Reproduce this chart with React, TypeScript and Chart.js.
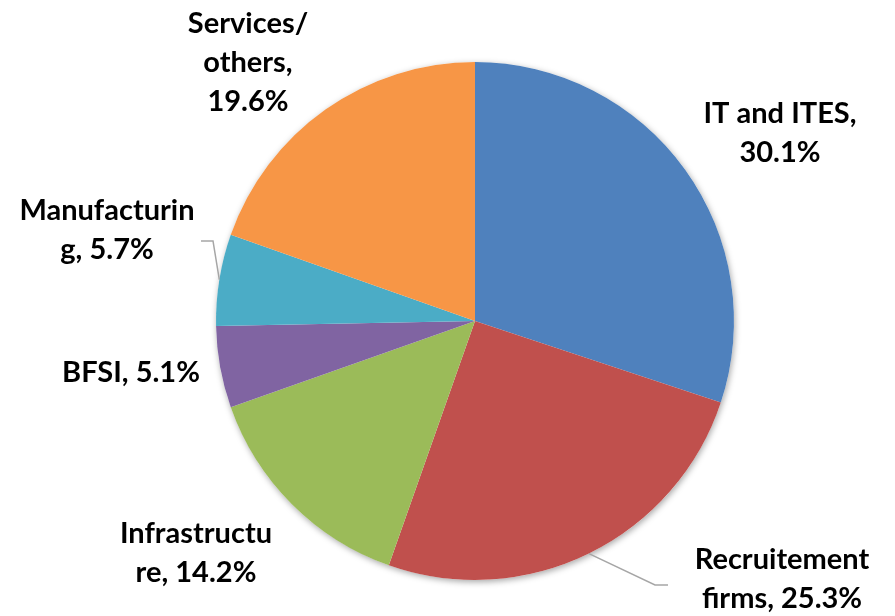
import React, { useEffect, useRef } from "react";
import { Chart, registerables } from "chart.js";

Chart.register(...registerables);

const categories = ["IT and ITES", "Recruitement firms", "Infrastructure", "BFSI", "Manufacturing", "Services/ others"];
const shares = [30.1, 25.3, 14.2, 5.1, 5.7, 19.6];
const labelLines = [
  ["IT and ITES,", "30.1%"],
  ["Recruitement", "firms, 25.3%"],
  ["Infrastructu", "re, 14.2%"],
  ["BFSI, 5.1%"],
  ["Manufacturin", "g, 5.7%"],
  ["Services/", "others,", "19.6%"],
];
const colors = ["#4F81BD", "#C0504D", "#9BBB59", "#8064A2", "#4BACC6", "#F79646"];

// label layout (style): center x and first baseline y, in canvas pixels
const labelLayout = [
  { x: 780, y: 123 },
  { x: 782, y: 569 },
  { x: 196, y: 543 },
  { x: 131, y: 382 },
  { x: 107, y: 220 },
  { x: 248, y: 33 },
];
// leader lines: elbow and end points (style)
const leaders: Record<number, { elbow: [number, number]; end: [number, number] }> = {
  1: { elbow: [655, 585], end: [668, 585] },
  4: { elbow: [213, 241], end: [201, 241] },
};

const FONT = "bold 29px Lato, 'Open Sans', sans-serif";
const LINE_H = 39;

const labelPlugin = {
  id: "pieLabels",
  beforeDatasetsDraw(chart: any) {
    const meta = chart.getDatasetMeta(0);
    const a = meta.data[0];
    if (!a) return;
    const ctx = chart.ctx;
    ctx.save();
    ctx.shadowColor = "rgba(0,0,0,0.35)";
    ctx.shadowBlur = 6;
    ctx.shadowOffsetX = 1;
    ctx.shadowOffsetY = 2;
    ctx.fillStyle = "#ffffff";
    ctx.beginPath();
    ctx.arc(a.x, a.y, a.outerRadius, 0, Math.PI * 2);
    ctx.fill();
    ctx.restore();
  },
  afterDatasetsDraw(chart: any) {
    const ctx = chart.ctx;
    const meta = chart.getDatasetMeta(0);
    ctx.save();
    ctx.strokeStyle = "#A6A6A6";
    ctx.lineWidth = 1.5;
    Object.keys(leaders).forEach((k) => {
      const i = Number(k);
      const arc = meta.data[i];
      const mid = (arc.startAngle + arc.endAngle) / 2;
      const sx = arc.x + Math.cos(mid) * arc.outerRadius;
      const sy = arc.y + Math.sin(mid) * arc.outerRadius;
      const L = leaders[i];
      ctx.beginPath();
      ctx.moveTo(sx, sy);
      ctx.lineTo(L.elbow[0], L.elbow[1]);
      ctx.lineTo(L.end[0], L.end[1]);
      ctx.stroke();
    });
    ctx.font = FONT;
    ctx.fillStyle = "#000000";
    ctx.textAlign = "center";
    ctx.textBaseline = "alphabetic";
    labelLines.forEach((lines, i) => {
      const p = labelLayout[i];
      lines.forEach((t, j) => {
        ctx.fillText(t, p.x, p.y + j * LINE_H);
      });
    });
    ctx.restore();
  },
};

export default function App() {
  const ref = useRef<HTMLCanvasElement>(null);
  useEffect(() => {
    if (!ref.current) return;
    const chart = new Chart(ref.current, {
      type: "pie",
      data: {
        labels: categories,
        datasets: [
          {
            data: shares,
            backgroundColor: colors,
            borderWidth: 0,
          },
        ],
      },
      options: {
        responsive: false,
        animation: false,
        layout: { padding: { top: 62, bottom: 36, left: 216, right: 161 } },
        plugins: { legend: { display: false }, tooltip: { enabled: false } },
      },
      plugins: [labelPlugin],
    });
    return () => chart.destroy();
  }, []);
  return (
    <div style={{ position: "absolute", left: 0, top: 0, width: 895, height: 616, background: "#fff" }}>
      <canvas ref={ref} width={895} height={616} style={{ display: "block" }} />
    </div>
  );
}
